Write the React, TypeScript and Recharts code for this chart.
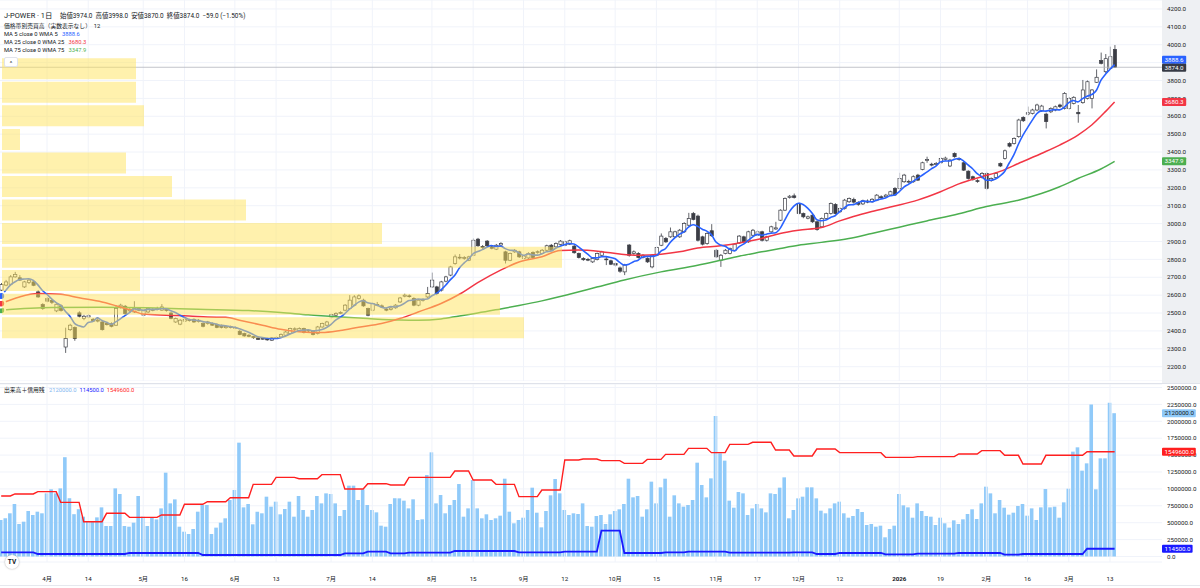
import React from 'react';
import {
  ComposedChart, BarChart, Bar, Line, XAxis, YAxis, CartesianGrid, ReferenceLine,
} from 'recharts';

// J-POWER daily bars, index 0 = 2025-03-17 … index 243 = 2026-03-16
const opens = [
  2628, 2656, 2661, 2702, 2697, 2646, 2670, 2674, 2618, 2547,
  2581, 2570, 2512, 2540, 2310, 2407, 2419, 2501, 2469, 2478,
  2465, 2455, 2450, 2442, 2441, 2432, 2534, 2538, 2512, 2506,
  2525, 2488, 2506, 2515, 2520, 2516, 2520, 2500, 2450, 2438,
  2455, 2462, 2465, 2452, 2441, 2441, 2441, 2437, 2432, 2418,
  2424, 2420, 2398, 2385, 2376, 2368, 2361, 2355, 2357, 2348,
  2360, 2366, 2376, 2385, 2408, 2398, 2413, 2400, 2398, 2385,
  2422, 2432, 2478, 2488, 2500, 2516, 2525, 2544, 2581, 2572,
  2525, 2516, 2544, 2540, 2522, 2520, 2529, 2562, 2594, 2596,
  2581, 2544, 2570, 2590, 2646, 2646, 2628, 2678, 2712, 2777,
  2808, 2805, 2795, 2823, 2913, 2872, 2902, 2870, 2857, 2880,
  2842, 2795, 2842, 2842, 2805, 2808, 2838, 2838, 2833, 2851,
  2879, 2870, 2883, 2879, 2885, 2874, 2833, 2805, 2800, 2786,
  2799, 2823, 2802, 2792, 2777, 2752, 2730, 2880, 2833, 2833,
  2810, 2805, 2758, 2823, 2879, 2917, 2926, 2926, 2926, 2954,
  2991, 3056, 3042, 2926, 2889, 2960, 2851, 2795, 2833, 2833,
  2851, 2892, 2926, 2898, 2935, 2935, 2954, 2907, 2954, 2970,
  3019, 3075, 3146, 3155, 3112, 3056, 3030, 3047, 3010, 2982,
  3028, 3056, 3107, 3066, 3084, 3122, 3135, 3118, 3110, 3126,
  3122, 3131, 3150, 3150, 3160, 3197, 3197, 3234, 3232, 3234,
  3271, 3303, 3352, 3332, 3330, 3340, 3358, 3322, 3392, 3364,
  3340, 3293, 3262, 3240, 3258, 3280, 3240, 3258, 3336, 3364,
  3448, 3448, 3486, 3594, 3612, 3616, 3635, 3630, 3612, 3625,
  3635, 3663, 3644, 3644, 3672, 3622, 3676, 3700, 3700, 3790,
  3911, 3849, 3868, 3974,
];
const highs = [
  2668, 2685, 2712, 2730, 2712, 2680, 2692, 2685, 2628, 2555,
  2590, 2578, 2555, 2548, 2418, 2440, 2425, 2510, 2490, 2495,
  2472, 2475, 2455, 2450, 2448, 2544, 2552, 2545, 2528, 2566,
  2532, 2520, 2532, 2528, 2535, 2550, 2526, 2505, 2474, 2466,
  2472, 2468, 2470, 2466, 2446, 2456, 2448, 2442, 2436, 2430,
  2430, 2426, 2405, 2390, 2382, 2372, 2366, 2364, 2362, 2366,
  2370, 2386, 2400, 2418, 2420, 2420, 2418, 2410, 2404, 2428,
  2446, 2456, 2496, 2504, 2510, 2550, 2600, 2600, 2604, 2580,
  2530, 2558, 2562, 2548, 2530, 2534, 2550, 2590, 2608, 2604,
  2588, 2578, 2582, 2646, 2726, 2652, 2680, 2708, 2764, 2827,
  2830, 2818, 2820, 2917, 2920, 2880, 2908, 2878, 2886, 2896,
  2848, 2838, 2858, 2848, 2824, 2840, 2845, 2850, 2858, 2882,
  2886, 2895, 2908, 2904, 2910, 2880, 2838, 2812, 2808, 2810,
  2838, 2848, 2814, 2798, 2782, 2760, 2775, 2886, 2850, 2840,
  2830, 2812, 2830, 2872, 2945, 2925, 2978, 2960, 2970, 3008,
  3060, 3065, 3050, 2932, 2952, 2997, 2858, 2830, 2858, 2866,
  2890, 2936, 2932, 2960, 2970, 2962, 2960, 2932, 2988, 3010,
  3080, 3146, 3160, 3168, 3120, 3062, 3045, 3052, 3016, 3034,
  3062, 3118, 3114, 3090, 3138, 3146, 3145, 3125, 3134, 3135,
  3142, 3165, 3158, 3166, 3184, 3204, 3284, 3278, 3245, 3270,
  3278, 3346, 3374, 3340, 3344, 3370, 3374, 3362, 3398, 3370,
  3346, 3298, 3268, 3248, 3288, 3290, 3258, 3286, 3342, 3414,
  3455, 3482, 3586, 3600, 3654, 3642, 3670, 3664, 3620, 3650,
  3660, 3670, 3735, 3708, 3712, 3663, 3803, 3800, 3752, 3862,
  3956, 3948, 3989, 3998,
];
const lows = [
  2618, 2650, 2655, 2698, 2680, 2640, 2662, 2650, 2585, 2518,
  2560, 2550, 2505, 2508, 2277, 2400, 2345, 2475, 2460, 2470,
  2450, 2448, 2402, 2430, 2420, 2428, 2525, 2490, 2505, 2500,
  2510, 2482, 2500, 2510, 2515, 2512, 2508, 2465, 2445, 2432,
  2450, 2452, 2445, 2447, 2420, 2435, 2428, 2415, 2414, 2412,
  2414, 2410, 2376, 2368, 2365, 2356, 2350, 2350, 2345, 2344,
  2355, 2362, 2372, 2380, 2400, 2394, 2386, 2394, 2375, 2380,
  2418, 2428, 2470, 2482, 2494, 2510, 2520, 2538, 2575, 2535,
  2482, 2510, 2538, 2528, 2510, 2514, 2524, 2556, 2588, 2586,
  2538, 2538, 2564, 2584, 2640, 2600, 2620, 2672, 2706, 2770,
  2800, 2798, 2790, 2818, 2870, 2858, 2870, 2856, 2852, 2874,
  2777, 2790, 2836, 2808, 2800, 2802, 2804, 2832, 2828, 2846,
  2846, 2864, 2878, 2874, 2880, 2832, 2805, 2792, 2790, 2780,
  2794, 2818, 2768, 2768, 2760, 2725, 2712, 2815, 2825, 2805,
  2805, 2780, 2750, 2818, 2874, 2892, 2920, 2920, 2920, 2948,
  2985, 3018, 2900, 2878, 2882, 2926, 2808, 2758, 2828, 2828,
  2846, 2886, 2892, 2892, 2930, 2930, 2900, 2900, 2948, 2965,
  3014, 3070, 3140, 3140, 3050, 3030, 3024, 3004, 2960, 2976,
  3022, 3050, 3050, 3060, 3078, 3116, 3112, 3100, 3104, 3114,
  3116, 3125, 3138, 3145, 3154, 3154, 3190, 3228, 3225, 3228,
  3238, 3298, 3340, 3320, 3324, 3335, 3352, 3316, 3368, 3352,
  3294, 3246, 3240, 3228, 3252, 3187, 3234, 3252, 3316, 3358,
  3426, 3442, 3480, 3568, 3605, 3610, 3628, 3624, 3532, 3618,
  3628, 3646, 3638, 3638, 3666, 3564, 3670, 3694, 3644, 3786,
  3890, 3842, 3862, 3870,
];
const closes = [
  2659, 2674, 2702, 2716, 2684, 2674, 2684, 2655, 2590, 2525,
  2566, 2560, 2549, 2515, 2357, 2432, 2357, 2482, 2482, 2485,
  2455, 2460, 2407, 2435, 2426, 2525, 2544, 2497, 2520, 2525,
  2516, 2516, 2525, 2520, 2526, 2534, 2514, 2469, 2469, 2460,
  2465, 2458, 2450, 2460, 2426, 2450, 2432, 2420, 2420, 2424,
  2420, 2418, 2380, 2372, 2370, 2362, 2353, 2358, 2350, 2361,
  2364, 2380, 2394, 2413, 2412, 2413, 2391, 2404, 2380, 2422,
  2441, 2450, 2491, 2497, 2503, 2544, 2572, 2590, 2596, 2540,
  2488, 2553, 2548, 2534, 2516, 2528, 2544, 2584, 2600, 2592,
  2544, 2572, 2574, 2609, 2684, 2609, 2674, 2702, 2758, 2814,
  2812, 2810, 2814, 2907, 2876, 2866, 2876, 2862, 2879, 2888,
  2795, 2833, 2851, 2814, 2818, 2833, 2810, 2843, 2851, 2876,
  2851, 2889, 2902, 2898, 2904, 2837, 2810, 2798, 2797, 2805,
  2833, 2842, 2799, 2773, 2768, 2734, 2768, 2823, 2842, 2810,
  2823, 2786, 2823, 2866, 2930, 2898, 2954, 2954, 2963, 3001,
  3028, 3023, 2907, 2885, 2945, 2932, 2814, 2823, 2851, 2861,
  2885, 2930, 2898, 2954, 2963, 2954, 2907, 2926, 2982, 2976,
  3075, 3140, 3153, 3146, 3056, 3038, 3038, 3010, 2967, 3028,
  3056, 3112, 3056, 3084, 3131, 3140, 3120, 3108, 3128, 3120,
  3136, 3159, 3144, 3159, 3178, 3160, 3252, 3271, 3236, 3262,
  3243, 3340, 3358, 3327, 3336, 3364, 3366, 3355, 3374, 3360,
  3299, 3252, 3247, 3236, 3280, 3197, 3252, 3280, 3322, 3407,
  3433, 3476, 3579, 3575, 3620, 3635, 3663, 3657, 3570, 3644,
  3653, 3654, 3728, 3700, 3706, 3614, 3747, 3793, 3747, 3818,
  3896, 3922, 3933, 3874,
];
// MA5 values for the first four sessions (their earlier closes are off-screen)
const ma5Head = [2595, 2627, 2656, 2674];
// MA25 / MA75 as [session index, value]
const ma25Points: [number, number][] = [
  [0, 2553], [4, 2590], [8, 2609], [13, 2605], [17, 2585], [22, 2562], [26, 2534], [29, 2510],
  [31, 2494], [36, 2488], [41, 2484], [45, 2478], [49, 2476], [52, 2460], [57, 2432], [61, 2409],
  [65, 2396], [70, 2391], [74, 2402], [78, 2420], [83, 2441], [87, 2469], [91, 2506], [96, 2553],
  [100, 2605], [104, 2670], [109, 2740], [113, 2785], [118, 2815], [122, 2850], [126, 2852],
  [131, 2843], [135, 2830], [139, 2823], [144, 2829], [148, 2842], [152, 2864], [157, 2876],
  [161, 2892], [166, 2917], [170, 2945], [174, 2963], [179, 2978], [183, 3015], [186, 3040],
  [190, 3068], [195, 3098], [200, 3131], [205, 3178], [209, 3222], [214, 3262], [218, 3292],
  [222, 3336], [227, 3392], [231, 3439], [235, 3495], [238, 3551], [241, 3626], [243, 3680.3],
];
const ma75Points: [number, number][] = [
  [0, 2516], [11, 2531], [22, 2532], [32, 2529], [43, 2521], [54, 2514], [61, 2503], [67, 2490],
  [74, 2478], [80, 2469], [87, 2461], [91, 2460], [96, 2467], [100, 2484], [104, 2500], [109, 2523],
  [113, 2542], [118, 2568], [122, 2592], [124, 2605], [130, 2645], [136, 2685], [144, 2730],
  [152, 2767], [157, 2795], [161, 2818], [166, 2842], [170, 2861], [174, 2879], [179, 2895],
  [185, 2917], [190, 2945], [196, 2980], [202, 3015], [209, 3055], [215, 3095], [222, 3131],
  [227, 3168], [231, 3206], [235, 3252], [240, 3305], [243, 3347.9],
];
const volumes = [
  540000, 565000, 639000, 777000, 481000, 515000, 673000, 614000, 663000, 639000,
  934000, 994000, 934000, 1008000, 1469000, 862000, 626000, 700000, 589000, 515000,
  515000, 579000, 727000, 451000, 451000, 1008000, 925000, 451000, 441000, 500000,
  895000, 589000, 451000, 579000, 549000, 712000, 1240000, 786000, 845000, 441000,
  367000, 333000, 407000, 663000, 762000, 762000, 333000, 427000, 500000, 565000,
  836000, 984000, 1684000, 727000, 777000, 476000, 663000, 639000, 885000, 737000,
  811000, 624000, 703000, 811000, 589000, 895000, 688000, 589000, 688000, 895000,
  786000, 934000, 925000, 786000, 599000, 688000, 1048000, 1048000, 836000, 994000,
  762000, 688000, 653000, 456000, 441000, 777000, 862000, 860000, 826000, 712000,
  846000, 540000, 550000, 1205000, 1541000, 786000, 910000, 639000, 762000, 836000,
  1072000, 589000, 712000, 1131000, 712000, 565000, 624000, 540000, 565000, 604000,
  1151000, 663000, 491000, 540000, 574000, 688000, 1018000, 648000, 431000, 673000,
  905000, 1146000, 934000, 688000, 614000, 639000, 629000, 786000, 451000, 441000,
  599000, 614000, 481000, 624000, 673000, 698000, 777000, 1151000, 875000, 895000,
  589000, 698000, 1107000, 786000, 1023000, 1151000, 589000, 905000, 786000, 737000,
  762000, 836000, 1388000, 1058000, 875000, 1156000, 2078000, 1526000, 1418000, 826000,
  722000, 954000, 934000, 614000, 712000, 777000, 712000, 653000, 934000, 925000,
  1018000, 1171000, 565000, 688000, 860000, 885000, 1023000, 1023000, 860000, 678000,
  639000, 712000, 786000, 811000, 639000, 574000, 599000, 703000, 658000, 466000,
  481000, 441000, 456000, 284000, 407000, 456000, 925000, 757000, 727000, 574000,
  786000, 673000, 599000, 589000, 466000, 574000, 491000, 427000, 535000, 481000,
  550000, 629000, 698000, 555000, 786000, 1033000, 934000, 639000, 836000, 722000,
  619000, 648000, 747000, 777000, 604000, 712000, 540000, 727000, 998000, 727000,
  737000, 574000, 801000, 1003000, 1551000, 1615000, 1270000, 1378000, 2250000, 994000,
  1452000, 1452000, 2275000, 2120000,
];
// weekly margin balances: [first session index, shares]
const marginBuySteps: [number, number][] = [
  [0, 895000], [3, 925000], [8, 959000], [13, 801000], [18, 515000], [23, 639000], [28, 579000],
  [35, 614000], [40, 772000], [45, 811000], [50, 870000], [55, 1067000], [60, 1171000],
  [65, 1151000], [70, 1211000], [75, 998000], [80, 1077000], [85, 1058000], [89, 1171000],
  [99, 1265000], [103, 1132000], [108, 1067000], [113, 885000], [118, 984000], [123, 1428000],
  [127, 1442000], [131, 1418000], [136, 1378000], [141, 1437000], [145, 1511000], [150, 1600000],
  [155, 1536000], [159, 1659000], [164, 1689000], [169, 1575000], [173, 1487000], [178, 1590000],
  [183, 1536000], [193, 1467000], [200, 1477000], [209, 1516000], [214, 1566000], [219, 1497000],
  [223, 1368000], [228, 1497000], [237, 1549600],
];
const marginSellSteps: [number, number][] = [
  [0, 62000], [8, 37000], [28, 52000], [44, 22000], [75, 47000], [80, 72000], [85, 47000],
  [89, 57000], [99, 81000], [113, 62000], [123, 72000], [131, 382000], [136, 52000], [145, 62000],
  [150, 72000], [159, 57000], [173, 62000], [178, 37000], [183, 52000], [193, 32000], [200, 42000],
  [209, 52000], [219, 27000], [223, 37000], [237, 114500],
];
// volume-by-price, 12 rows (bucket mid price, million shares)
const profilePrices = [2417, 2548, 2680, 2811, 2943, 3075, 3206, 3338, 3469, 3601, 3733, 3864];
const profileVolumes = [26.1, 24.9, 6.9, 28.0, 19.0, 12.2, 8.5, 6.2, 0.9, 7.1, 6.7, 6.7];

const tickIndex = [10, 19, 31, 40, 51, 60, 72, 81, 94, 103, 114, 123, 134, 143, 156, 165, 174, 183, 196, 205, 215, 224, 233, 242];
const tickLabels = ['4月', '14', '5月', '16', '6月', '13', '7月', '14', '8月', '15', '9月', '12', '10月', '15', '11月', '17', '12月', '12', '2026', '19', '2月', '16', '3月', '13'];
const priceTicks = [2200, 2300, 2400, 2500, 2600, 2700, 2800, 2900, 3000, 3100, 3200, 3300, 3400, 3500, 3600, 3700, 3800, 3900, 4000, 4100, 4200];
const volumeTicks = [0, 250000, 500000, 750000, 1000000, 1250000, 1500000, 1750000, 2000000, 2250000, 2500000];

const FONT = "Roboto, 'Noto Sans CJK JP', sans-serif";
const INK = '#131722';
const GRID = '#f0f3fa';
const CANDLE = '#3b3d45';
const MA5_COLOR = '#2962ff';
const MA25_COLOR = '#f23645';
const MA75_COLOR = '#4caf50';
const VOL_COLOR = '#90caf9';
const BUY_COLOR = '#ff1f1f';
const SELL_COLOR = '#1a1aff';
const X_DOMAIN: [number, number] = [-0.26, 253.34];
const PRICE_DOMAIN: [number, number] = [2120, 4250];
const VOL_DOMAIN: [number, number] = [-81400, 2551800];
const NO_MARGIN = { top: 0, right: 0, bottom: 0, left: 0 };

const stepValue = (steps: [number, number][], i: number) => {
  let v = steps[0][1];
  for (const [start, val] of steps) if (start <= i) v = val;
  return v;
};
const ma25ByDay = new Map(ma25Points);
const ma75ByDay = new Map(ma75Points);

const rows = closes.map((c, i) => ({
  i,
  o: opens[i],
  h: highs[i],
  l: lows[i],
  c,
  hl: [lows[i], highs[i]],
  ma5: i < 4 ? ma5Head[i] : closes.slice(i - 4, i + 1).reduce((s, v) => s + v, 0) / 5,
  ma25: ma25ByDay.has(i) ? ma25ByDay.get(i) : null,
  ma75: ma75ByDay.has(i) ? ma75ByDay.get(i) : null,
  vol: volumes[i],
  buy: stepValue(marginBuySteps, i),
  sell: stepValue(marginSellSteps, i),
}));
const profileRows = profilePrices.map((price, k) => ({ price, vol: profileVolumes[k] }));

const fmt = (v: number) => v.toFixed(1);

const Candle = (props: any) => {
  const { x, y, width, height, payload } = props;
  if (!payload || payload.h === payload.l) return null;
  const top = Math.min(y, y + height);
  const span = Math.abs(height);
  const k = span / (payload.h - payload.l);
  const bodyTop = top + (payload.h - Math.max(payload.o, payload.c)) * k;
  const bodyH = Math.max(0.8, Math.abs(payload.o - payload.c) * k);
  const cx = x + width / 2;
  const up = payload.c >= payload.o;
  return (
    <g>
      <line x1={cx} x2={cx} y1={top} y2={top + span} stroke={CANDLE} strokeWidth={0.8} />
      <rect x={x} y={bodyTop} width={width} height={bodyH} fill={up ? '#ffffff' : CANDLE} stroke={CANDLE} strokeWidth={0.7} />
    </g>
  );
};

const badge = (text: string, bg: string, fg: string, shift = 0) => (props: any) => {
  const vb = props.viewBox || {};
  const x = (vb.x || 0) + (vb.width || 0);
  const y = (vb.y || 0) + shift;
  const w = text.length * 3.2 + 5;
  return (
    <g>
      <rect x={x} y={y - 4} width={w} height={8} rx={1} fill={bg} />
      <text x={x + 2.5} y={y} dominantBaseline="central" fontSize={6.2} fill={fg}>{text}</text>
    </g>
  );
};

const TimeTick = (props: any) => {
  const { x, y, payload } = props;
  const label = tickLabels[tickIndex.indexOf(payload.value)];
  return (
    <text x={x} y={y + 17} textAnchor="middle" dominantBaseline="central" fontSize={6.2} fill={INK} fontWeight={label === '2026' ? 700 : 400}>
      {label}
    </text>
  );
};

const Txt = ({ x, y, size = 5.8, color = INK, children }: any) => (
  <div style={{ position: 'absolute', left: x, top: y, transform: 'translateY(-50%)', fontSize: size, color, whiteSpace: 'nowrap', lineHeight: 1 }}>
    {children}
  </div>
);

export default function App() {
  const last = rows[rows.length - 1];
  const prev = rows[rows.length - 2];
  const chg = last.c - prev.c;
  const pct = (chg / prev.c) * 100;
  const signed = (v: number, d = 1) => (v < 0 ? '−' + (-v).toFixed(d) : '+' + v.toFixed(d));

  return (
    <div style={{ position: 'fixed', left: 0, top: 0, width: 1200, height: 588, background: '#fff', overflow: 'hidden', fontFamily: FONT, color: INK }}>
      {/* price scale background */}
      <div style={{ position: 'absolute', left: 1162, top: 0, width: 38, height: 383, background: '#eef0f3' }} />

      <div style={{ position: 'absolute', left: 0, top: 0 }}>
        <ComposedChart width={1200} height={381} data={rows} margin={NO_MARGIN}>
          <CartesianGrid stroke={GRID} vertical={false} />
          <XAxis dataKey="i" type="number" domain={X_DOMAIN} allowDataOverflow hide />
          <YAxis
            orientation="right" width={38} domain={PRICE_DOMAIN} allowDataOverflow ticks={priceTicks} interval={0}
            tickFormatter={fmt} tick={{ fontSize: 6.2, fill: INK }} tickLine={false} axisLine={false} tickSize={0} tickMargin={5}
          />
          {tickIndex.map((t) => <ReferenceLine key={t} x={t} stroke={GRID} />)}
          <ReferenceLine y={last.c} stroke="#b2b5be" strokeWidth={0.8} />
          <Line dataKey="ma75" stroke={MA75_COLOR} strokeWidth={1.5} dot={false} connectNulls type="monotone" isAnimationActive={false} />
          <Line dataKey="ma25" stroke={MA25_COLOR} strokeWidth={1.5} dot={false} connectNulls type="monotone" isAnimationActive={false} />
          <Bar dataKey="hl" barSize={3.2} shape={<Candle />} isAnimationActive={false} />
          <Line dataKey="ma5" stroke={MA5_COLOR} strokeWidth={1.6} dot={false} type="monotone" isAnimationActive={false} />
        </ComposedChart>
      </div>

      {/* volume-by-price rows, drawn over the candles */}
      <div style={{ position: 'absolute', left: 2, top: 0, pointerEvents: 'none' }}>
        <BarChart layout="vertical" width={1160} height={381} data={profileRows} margin={NO_MARGIN}>
          <XAxis type="number" domain={[0, 58]} hide />
          <YAxis type="number" dataKey="price" domain={PRICE_DOMAIN} allowDataOverflow hide reversed />
          <Bar dataKey="vol" fill="#ffe45c" fillOpacity={0.5} barSize={21} isAnimationActive={false} />
        </BarChart>
      </div>

      {/* last-value badges on the price scale, above the tick labels */}
      <div style={{ position: 'absolute', left: 0, top: 0, pointerEvents: 'none' }}>
        <ComposedChart width={1200} height={381} data={rows} margin={{ top: 0, right: 38, bottom: 0, left: 0 }}>
          <XAxis dataKey="i" type="number" domain={X_DOMAIN} allowDataOverflow hide />
          <YAxis domain={PRICE_DOMAIN} allowDataOverflow hide />
          <ReferenceLine y={last.ma5} stroke="none" label={badge(fmt(last.ma5), MA5_COLOR, '#fff', -5)} />
          <ReferenceLine y={last.c} stroke="none" label={badge(fmt(last.c), '#363a45', '#fff', 0.5)} />
          <ReferenceLine y={last.ma25 as number} stroke="none" label={badge(fmt(last.ma25 as number), MA25_COLOR, '#fff')} />
          <ReferenceLine y={last.ma75 as number} stroke="none" label={badge(fmt(last.ma75 as number), MA75_COLOR, '#fff')} />
        </ComposedChart>
      </div>

      <div style={{ position: 'absolute', left: 0, top: 383, width: 1200, height: 1, background: '#dfe2ea' }} />

      <div style={{ position: 'absolute', left: 0, top: 384 }}>
        <ComposedChart width={1200} height={204} data={rows} margin={NO_MARGIN}>
          <CartesianGrid stroke={GRID} vertical={false} />
          <XAxis
            dataKey="i" type="number" domain={X_DOMAIN} allowDataOverflow ticks={tickIndex} interval={0}
            tick={<TimeTick />} tickLine={false} axisLine={false} height={26} tickSize={0} tickMargin={0}
          />
          <YAxis
            orientation="right" width={38} domain={VOL_DOMAIN} allowDataOverflow ticks={volumeTicks} interval={0}
            tickFormatter={fmt} tick={{ fontSize: 6.2, fill: INK }} tickLine={false} axisLine={false} tickSize={0} tickMargin={5}
          />
          {tickIndex.map((t) => <ReferenceLine key={t} x={t} stroke={GRID} />)}
          <Bar dataKey="vol" fill={VOL_COLOR} barSize={3.6} isAnimationActive={false} />
          <Line dataKey="buy" stroke={BUY_COLOR} strokeWidth={1.4} dot={false} type="linear" isAnimationActive={false} />
          <Line dataKey="sell" stroke={SELL_COLOR} strokeWidth={1.8} dot={false} type="linear" isAnimationActive={false} />
        </ComposedChart>
      </div>

      <div style={{ position: 'absolute', left: 0, top: 384, pointerEvents: 'none' }}>
        <ComposedChart width={1200} height={204} data={rows} margin={{ top: 0, right: 38, bottom: 26, left: 0 }}>
          <XAxis dataKey="i" type="number" domain={X_DOMAIN} allowDataOverflow hide />
          <YAxis domain={VOL_DOMAIN} allowDataOverflow hide />
          <ReferenceLine y={last.vol} stroke="none" label={badge(fmt(last.vol), VOL_COLOR, INK)} />
          <ReferenceLine y={last.buy} stroke="none" label={badge(fmt(last.buy), BUY_COLOR, '#fff')} />
          <ReferenceLine y={last.sell} stroke="none" label={badge(fmt(last.sell), SELL_COLOR, '#fff')} />
        </ComposedChart>
      </div>

      <div style={{ position: 'absolute', left: 0, top: 585, width: 1200, height: 1, background: '#e6e8ee' }} />

      <Txt x={4} y={16} size={7.4}>J-POWER · 1日</Txt>
      <Txt x={60} y={16} size={6.4}>
        始値{fmt(last.o)}&nbsp; 高値{fmt(last.h)}&nbsp; 安値{fmt(last.l)}&nbsp; 終値{fmt(last.c)}&nbsp; {signed(chg)} ({signed(pct, 2)}%)
      </Txt>
      <Txt x={4} y={26.7}>価格帯別売買高（実数表示なし）&nbsp; 12</Txt>
      <Txt x={4} y={34.7}>MA 5 close 0 WMA 5&nbsp;&nbsp; <span style={{ color: MA5_COLOR }}>{fmt(last.ma5)}</span></Txt>
      <Txt x={4} y={42.7}>MA 25 close 0 WMA 25&nbsp;&nbsp; <span style={{ color: MA25_COLOR }}>{fmt(last.ma25 as number)}</span></Txt>
      <Txt x={4} y={50.7}>MA 75 close 0 WMA 75&nbsp;&nbsp; <span style={{ color: MA75_COLOR }}>{fmt(last.ma75 as number)}</span></Txt>
      <div style={{ position: 'absolute', left: 4, top: 57, width: 12, height: 8, border: '1px solid #e0e3eb', borderRadius: 2, background: '#fff', fontSize: 6, lineHeight: '10px', textAlign: 'center' }}>^</div>

      <Txt x={4} y={390.7}>
        出来高＋信用残&nbsp;&nbsp; <span style={{ color: '#7fb6ef' }}>{fmt(last.vol)}</span>&nbsp; <span style={{ color: SELL_COLOR }}>{fmt(last.sell)}</span>&nbsp; <span style={{ color: BUY_COLOR }}>{fmt(last.buy)}</span>
      </Txt>
      <div style={{ position: 'absolute', left: 5, top: 555, width: 14, height: 14, borderRadius: '50%', background: '#fff', boxShadow: '0 0 2px rgba(0,0,0,0.35)', fontSize: 6.5, fontWeight: 700, lineHeight: '14px', textAlign: 'center' }}>TV</div>
    </div>
  );
}
